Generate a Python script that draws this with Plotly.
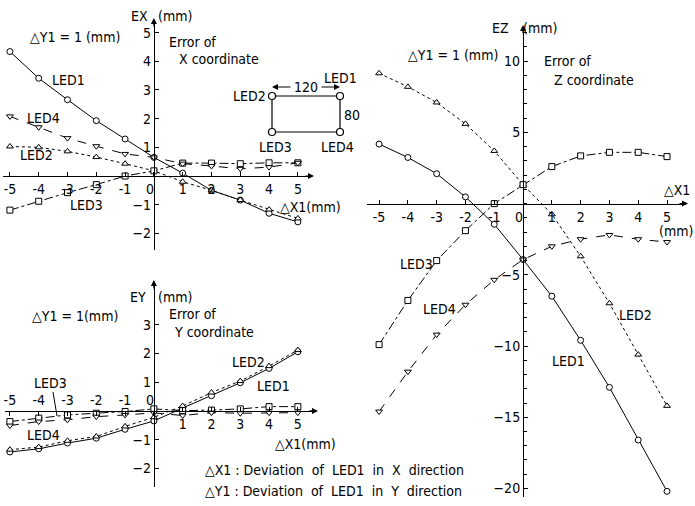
import plotly.graph_objects as go

W, H = 695, 506

# ---------------- data ----------------
dx1 = [-5, -4, -3, -2, -1, 0, 1, 2, 3, 4, 5]

ex_led1 = [4.34, 3.41, 2.66, 1.93, 1.29, 0.65, 0.10, -0.50, -0.84, -1.30, -1.60]
ex_led2 = [1.03, 1.00, 0.86, 0.66, 0.43, 0.18, -0.20, -0.50, -0.84, -1.17, -1.48]
ex_led3 = [-1.19, -0.88, -0.58, -0.30, 0.00, 0.18, 0.45, 0.45, 0.43, 0.46, 0.46]
ex_led4 = [2.08, 1.70, 1.32, 1.04, 0.77, 0.65, 0.43, 0.35, 0.25, 0.31, 0.46]

ey_led1 = [-1.43, -1.32, -1.12, -0.95, -0.64, -0.35, 0.10, 0.53, 0.98, 1.48, 2.06]
ey_led2 = [-1.35, -1.26, -1.04, -0.89, -0.54, -0.22, 0.17, 0.64, 1.04, 1.56, 2.12]
ey_led3 = [-0.37, -0.25, -0.14, -0.08, -0.02, 0.07, 0.01, 0.03, 0.07, 0.15, 0.15]
ey_led4 = [-0.51, -0.37, -0.31, -0.20, -0.14, -0.07, -0.16, -0.06, -0.08, -0.06, -0.06]

ez_led1 = [4.18, 3.24, 2.10, 0.47, -1.45, -3.93, -6.5, -9.6, -12.9, -16.6, -20.2]
ez_led2 = [9.15, 8.2, 7.1, 5.6, 3.7, 1.33, -0.75, -3.7, -7.0, -10.6, -14.2]
ez_led3 = [-9.9, -6.8, -4.0, -1.9, 0.0, 1.33, 2.6, 3.35, 3.6, 3.6, 3.3]
ez_led4 = [-14.6, -11.8, -9.2, -7.1, -5.35, -3.93, -3.0, -2.5, -2.2, -2.5, -2.7]

x_ticks = [-5, -4, -3, -2, -1, 0, 1, 2, 3, 4, 5]
ex_yticks = [-2, -1, 1, 2, 3, 4, 5]
ey_yticks = [-2, -1, 1, 2, 3]
ez_yticks = [-20, -15, -10, -5, 5, 10]

styles = {
    "LED1": dict(dash="solid", symbol="circle"),
    "LED2": dict(dash="dot", symbol="triangle-up"),
    "LED3": dict(dash="dashdot", symbol="square"),
    "LED4": dict(dash="dash", symbol="triangle-down"),
}

FONT = "Liberation Sans Narrow, DejaVu Sans Condensed, Arial Narrow, sans-serif"


def px(x):
    return x / W


def py(y):
    return 1 - y / H


# panel geometry (pixel boxes) and data ranges
panels = {
    "EX": dict(xd=(px(3), px(312)), yd=(py(250), py(20)), xr=(-5.24, 5.49), yr=(-2.58, 5.44)),
    "EY": dict(xd=(px(5), px(316)), yd=(py(487), py(282)), xr=(-5.17, 5.63), yr=(-2.65, 4.49)),
    "EZ": dict(xd=(px(367), px(686)), yd=(py(497), py(27)), xr=(-5.42, 5.66), yr=(-20.6, 12.4)),
}


def zero_pos(dom, rng):
    return dom[0] + (dom[1] - dom[0]) * (0 - rng[0]) / (rng[1] - rng[0])


fig = go.Figure()

series = {
    "EX": ("x", "y", [("LED1", ex_led1), ("LED2", ex_led2), ("LED3", ex_led3), ("LED4", ex_led4)]),
    "EY": ("x2", "y2", [("LED1", ey_led1), ("LED2", ey_led2), ("LED3", ey_led3), ("LED4", ey_led4)]),
    "EZ": ("x4", "y3", [("LED1", ez_led1), ("LED2", ez_led2), ("LED3", ez_led3), ("LED4", ez_led4)]),
}
for key, (xa, ya, lst) in series.items():
    for name, vals in lst:
        st = styles[name]
        fig.add_trace(go.Scatter(
            x=dx1, y=vals, xaxis=xa, yaxis=ya, mode="lines+markers", name=name,
            line=dict(color="black", width=1, dash=st["dash"]),
            marker=dict(symbol=st["symbol"], size=6, color="white",
                        line=dict(color="black", width=1)),
            showlegend=False, cliponaxis=False,
        ))
# empty trace so the top-side tick axis of the EY panel is drawn
fig.add_trace(go.Scatter(x=[None], y=[None], xaxis="x3", yaxis="y2", mode="lines",
                         showlegend=False, hoverinfo="skip"))

axis_common = dict(showgrid=False, zeroline=False, showline=True, linecolor="black",
                   linewidth=1.2, ticks="inside", ticklen=4, tickwidth=1, tickcolor="black",
                   tickfont=dict(family=FONT, size=14, color="black"), anchor="free")

ex, ey, ez = panels["EX"], panels["EY"], panels["EZ"]
pad0 = "0\u00a0\u00a0"

lay = {}
# EX axes
lay["xaxis"] = dict(axis_common, domain=ex["xd"], range=ex["xr"],
                    position=zero_pos(ex["yd"], ex["yr"]), tickmode="array", tickvals=x_ticks,
                    ticktext=[pad0 if v == 0 else str(v) for v in x_ticks])
lay["yaxis"] = dict(axis_common, domain=ex["yd"], range=ex["yr"],
                    position=zero_pos(ex["xd"], ex["xr"]), tickmode="array", tickvals=ex_yticks)
# EY axes: positive labels below, negative labels above
lay["xaxis2"] = dict(axis_common, domain=ey["xd"], range=ey["xr"],
                     position=zero_pos(ey["yd"], ey["yr"]), tickmode="array",
                     tickvals=[v for v in x_ticks if v > 0])
lay["xaxis3"] = dict(axis_common, domain=ey["xd"], range=ey["xr"], overlaying="x2",
                     side="top",
                     position=zero_pos(ey["yd"], ey["yr"]), tickmode="array",
                     tickvals=[v for v in x_ticks if v <= 0],
                     ticktext=[pad0 if v == 0 else str(v) for v in x_ticks if v <= 0])
lay["yaxis2"] = dict(axis_common, domain=ey["yd"], range=ey["yr"],
                     position=zero_pos(ey["xd"], ey["xr"]), tickmode="array", tickvals=ey_yticks)
# EZ axes
lay["xaxis4"] = dict(axis_common, domain=ez["xd"], range=ez["xr"],
                     position=zero_pos(ez["yd"], ez["yr"]), tickmode="array", tickvals=x_ticks,
                     ticktext=[pad0 if v == 0 else str(v) for v in x_ticks])
lay["yaxis3"] = dict(axis_common, domain=ez["yd"], range=ez["yr"],
                     position=zero_pos(ez["xd"], ez["xr"]), tickmode="array", tickvals=ez_yticks,
                     minor=dict(dtick=1, ticks="inside", ticklen=3, tickcolor="black"))

fig.update_layout(**lay)

annotations = []


def txt(text, x, y, xanchor="center", size=14, family=FONT):
    annotations.append(dict(text=text, x=px(x), y=py(y), xref="paper", yref="paper",
                            showarrow=False, xanchor=xanchor, yanchor="middle",
                            font=dict(family=family, size=size, color="black")))


def arrow(x, y, ax, ay):
    annotations.append(dict(text="", x=px(x), y=py(y), xref="paper", yref="paper",
                            showarrow=True, arrowhead=2, arrowsize=1, arrowwidth=1.2,
                            arrowcolor="black", ax=ax, ay=ay))


# axis end arrows
for p in panels.values():
    xz = zero_pos(p["xd"], p["xr"]) * W
    yz = (1 - zero_pos(p["yd"], p["yr"])) * H
    top = (1 - p["yd"][1]) * H
    right = p["xd"][1] * W
    arrow(xz, top - 2, 0, 10)
    arrow(right + 2, yz, -10, 0)

tri = "\u25b3"
# EX texts
txt("EX", 139, 16)
txt("(mm)", 175, 16)
txt(tri + "Y1 = 1 (mm)", 75, 37)
txt("Error of", 167, 42, "left")
txt("X coordinate", 177, 59, "left")
txt("LED1", 68, 80)
txt("LED4", 43, 118)
txt("LED2", 36, 155)
txt("LED3", 86, 205)
txt(tri + "X1(mm)", 310, 207)
# inset
txt("LED2", 249, 96)
txt("LED1", 340, 78)
txt("LED3", 275, 147)
txt("LED4", 337, 147)
txt("120", 306, 87)
txt("80", 352, 115)
# EY texts
txt("EY", 138, 297)
txt("(mm)", 175, 297)
txt(tri + "Y1 = 1(mm)", 75, 316)
txt("Error of", 167, 314, "left")
txt("Y coordinate", 172, 332, "left")
txt("LED2", 248, 362)
txt("LED1", 273, 386)
txt("LED3", 50, 383)
txt("LED4", 43, 435)
txt(tri + "X1(mm)", 305, 444)
txt(tri + "X1 : Deviation  of  LED1  in  X  direction", 203, 470, "left")
txt(tri + "Y1 : Deviation  of  LED1  in  Y  direction", 203, 491, "left")
# EZ texts
txt("EZ", 500, 28)
txt("(mm)", 540, 28)
txt(tri + "Y1 = 1 (mm)", 453, 55)
txt("Error of", 542, 61, "left")
txt("Z coordinate", 552, 80, "left")
txt(tri + "X1", 692, 190, "right")
txt("(mm)", 695, 231, "right")
txt("LED3", 416, 264)
txt("LED4", 440, 309)
txt("LED2", 635, 315)
txt("LED1", 568, 361)

# inset arrows for "120"
arrow(272, 87, 20, 0)
arrow(340, 87, -20, 0)

fig.update_layout(annotations=annotations)

shapes = []
# inset rectangle
shapes.append(dict(type="rect", xref="paper", yref="paper", x0=px(272), x1=px(340),
                   y0=py(132), y1=py(96), line=dict(color="black", width=1.2)))
for cx, cy in [(272, 96), (340, 96), (272, 132), (340, 132)]:
    shapes.append(dict(type="circle", xref="paper", yref="paper", x0=px(cx - 3.5), x1=px(cx + 3.5),
                       y0=py(cy + 3.5), y1=py(cy - 3.5), fillcolor="white",
                       line=dict(color="black", width=1.2)))
# LED3 leader line in EY
shapes.append(dict(type="line", xref="paper", yref="paper", x0=px(53), y0=py(392),
                   x1=px(57), y1=py(416), line=dict(color="black", width=1)))

fig.update_layout(shapes=shapes)

fig.update_layout(width=W, height=H, margin=dict(l=0, r=0, t=0, b=0),
                  plot_bgcolor="white", paper_bgcolor="white",
                  font=dict(family=FONT, size=14, color="black"))

fig.write_html("out.html", post_script="document.body.style.margin='0';",
               config={"displayModeBar": False})
